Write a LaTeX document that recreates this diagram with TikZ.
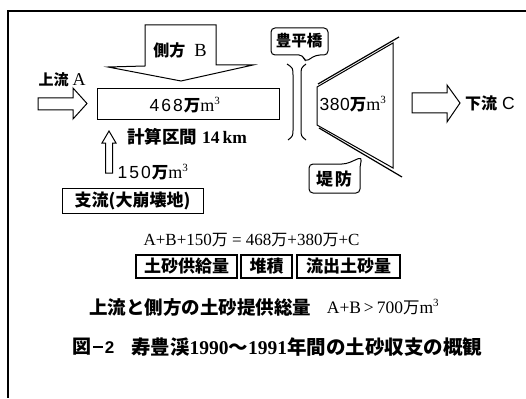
\documentclass[tikz,border=0pt]{standalone}
\usepackage{fontspec}
\setmainfont{Liberation Serif}
\newfontfamily\jp{Noto Sans CJK JP}
\newfontfamily\ls{Liberation Sans}
\newcommand\fsz[1]{\fontsize{#1}{#1}\selectfont}
\newcommand\cubic{\textsuperscript{\fsz{11}3}}
\newcommand\qty[1]{{\ls\fsz{17.5}#1}{\jp\bfseries\fsz{16.5}万}{\rmfamily\fsz{18}m\cubic}}
\newcommand\man{{\jp\fsz{16}万}}
\begin{document}
\begin{tikzpicture}[x=1pt,y=-1pt,
  ol/.style={draw=black, line width=1pt, line join=miter},
  lbl/.style={inner sep=0pt, anchor=center},
  bx/.style={draw, line width=1.1pt, inner sep=0pt, minimum height=23pt}]
\useasboundingbox (0,0) rectangle (526,398);
% frame
\draw[line width=1.5pt] (526,11) -- (8,11) -- (8,398);

% upstream A
\draw[ol] (38,98)--(73,98)--(73,88)--(87,103.5)--(73,119)--(73,110)--(38,110)--cycle;
\node[lbl] (A) at (62,80) {\jp\bfseries\fsz{15}上流\hspace{4pt}\rmfamily\mdseries\fsz{18}A};

% lateral B
\draw[ol] (145,25)--(216,25)--(216,65)--(253,65)--(181,81)--(108,67)--(145,66)--cycle;
\node[lbl] (B) at (180,50) {\jp\bfseries\fsz{16}側方\hspace{9pt}\rmfamily\mdseries\fsz{18.5}B};

% computation section
\node[draw, line width=1pt, minimum width=182pt, minimum height=31pt, inner sep=0pt] (sec) at (188,104.5) {};
\node[lbl] (v468) at (185,105) {\qty{4\hspace{2pt}6\hspace{2pt}8\hspace{1pt}}};
\node[lbl] (len) at (187,137) {\jp\bfseries\fsz{17.5}計算区間\hspace{5pt}\rmfamily\fsz{17.5}14\,km};

% tributary
\draw[ol] (105.5,173)--(112.5,173)--(112.5,143)--(116,143)--(109,131)--(102,143)--(105.5,143)--cycle;
\node[lbl] (v150) at (153,172) {\qty{1\hspace{2pt}5\hspace{2pt}0\hspace{1pt}}};
\node[draw, line width=1pt, minimum width=141pt, minimum height=25pt, inner sep=0pt] (trib) at (132.5,200.5) {\jp\bfseries\fsz{17}支流(大崩壊地)};

% bridge
\draw[line width=1pt, rounded corners=4pt] (271,28) -- (328,28) -- (328,55) -- (316,55) -- (305,62) -- (303,55) -- (271,55) -- cycle;
\node[lbl] (brg) at (299,41) {\jp\bfseries\fsz{15.5}豊平橋};
\draw[line width=1pt] (287,64) .. controls (293,68) .. (293,76) -- (293,129) .. controls (293,136) .. (288,140);
\draw[line width=1pt] (306,64) .. controls (301,68) .. (301,76) -- (301,129) .. controls (301,136) .. (306,140);

% deposition area
\draw[line width=1pt] (317,87) -- (393,43) -- (393,168) -- (317,125) -- cycle;
\draw[line width=1.2pt] (318,84) -- (399,37);
\draw[line width=1.2pt] (319,128) -- (402,177);
\node[lbl] (v380) at (353,104) {\qty{3\hspace{0.5pt}8\hspace{0.5pt}0}};

% embankment callout
\draw[line width=1pt, rounded corners=4pt] (309,164) -- (346,164) -- (362,157) -- (360,166) -- (360,193) -- (309,193) -- cycle;
\node[lbl] (emb) at (334,179) {\jp\bfseries\fsz{17}堤\hspace{2pt}防};

% downstream C
\draw[ol] (412,93)--(447,93)--(447,85)--(460,103)--(447,122)--(447,113)--(412,113)--cycle;
\node[lbl] (C) at (490,103) {\jp\bfseries\fsz{16}下流\hspace{5pt}\ls\mdseries\fsz{17.5}C};

% equation
\node[lbl] (eq) at (251.5,240) {\fsz{17}A+B+150\man{} = 468\man+380\man+C};
\node[bx, minimum width=101pt] (sup) at (186.5,266.5) {\jp\bfseries\fsz{17}土砂供給量};
\node[bx, minimum width=51pt] (dep) at (266.5,266.5) {\jp\bfseries\fsz{17}堆積};
\node[bx, minimum width=103pt] (out) at (348.5,266.5) {\jp\bfseries\fsz{17}流出土砂量};

% total
\node[lbl] (tot) at (200,307) {\jp\bfseries\fsz{18.5}上流と側方の土砂提供総量};
\node[lbl] (ab) at (383,307) {\fsz{17.5}A+B\,>\,700{\jp\fsz{16.5}万}m\cubic};

% caption
\node[lbl] (fig) at (93.5,347) {{\jp\bfseries\fsz{19}図}\hspace{1.5pt}\rule[6pt]{10pt}{2.2pt}\hspace{1.5pt}{\ls\bfseries\fsz{17}2}};
\node[lbl] (cap) at (306.5,347) {\jp\bfseries\fsz{19.5}寿豊渓\rmfamily 1990{\jp ～}1991\jp 年間の土砂収支の概観};
\end{tikzpicture}
\end{document}
